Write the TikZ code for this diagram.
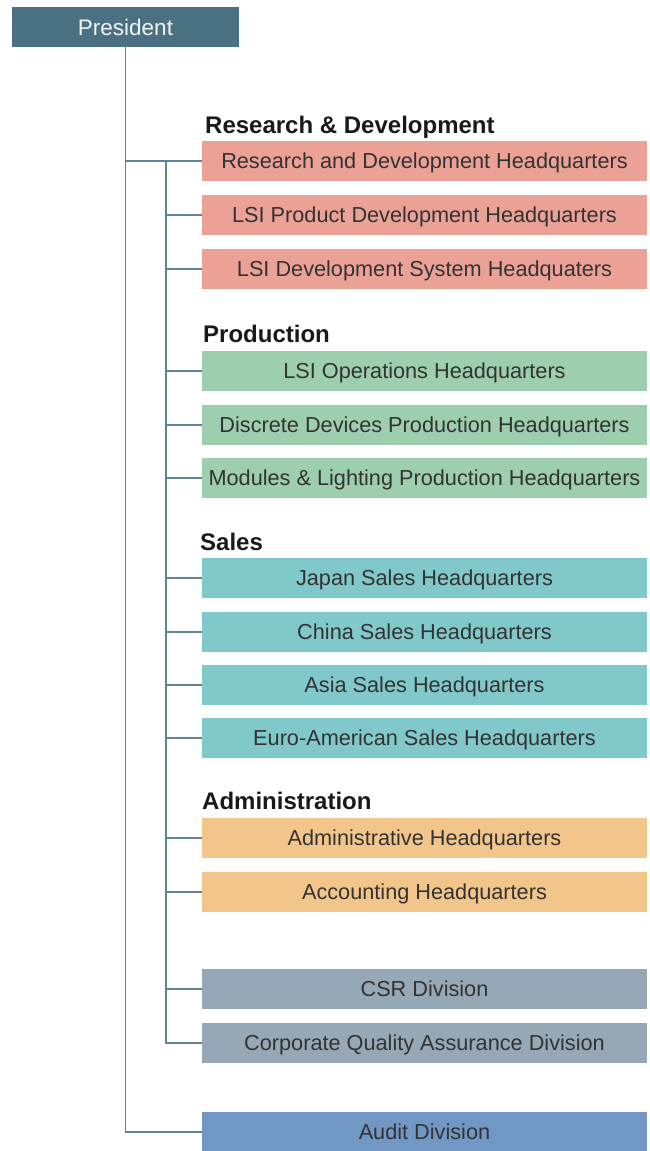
\documentclass[tikz,border=0pt]{standalone}
\usepackage{fontspec}
\setmainfont{Liberation Sans}
\usetikzlibrary{positioning}

\definecolor{presblue}{HTML}{4A7082}
\definecolor{linecol}{HTML}{5E8496}
\definecolor{rdred}{HTML}{EBA196}
\definecolor{prodgreen}{HTML}{9DCEAE}
\definecolor{salesteal}{HTML}{80C8C9}
\definecolor{adminorange}{HTML}{F2C68A}
\definecolor{divgrey}{HTML}{96A8B5}
\definecolor{auditblue}{HTML}{7197C5}
\definecolor{txtgrey}{HTML}{333333}

\tikzset{
  hqbox/.style={minimum width=445pt, minimum height=40pt, inner sep=0pt,
    text height=15.5pt, text depth=0pt,
    text=txtgrey, font=\fontsize{21.7}{24}\selectfont},
  grouphead/.style={anchor=base west, inner sep=0pt, text=black!90,
    font=\fontsize{24}{26}\selectfont\bfseries},
  conn/.style={draw=linecol, line width=1.4pt}
}

\begin{document}
\begin{tikzpicture}[x=1pt,y=-1pt]
        \useasboundingbox (0,0) rectangle (650,1151);
        % top
        \node[fill=presblue, minimum width=227pt, minimum height=40pt, inner sep=0pt,
          text height=16pt, text depth=0pt,
          text=white!92!presblue, font=\fontsize{22.5}{24}\selectfont] (pres) at (125.5,27) {President};
        % group headings
        \node[grouphead] (hrd) at (205,133) {Research \& Development};
        \node[grouphead] (hprod) at (203,342) {Production};
        \node[grouphead] (hsales) at (200,550) {Sales};
        \node[grouphead] (hadmin) at (202,809) {Administration};
        % boxes
        \node[hqbox, fill=rdred] (rd) at (424.5,161) {Research and Development Headquarters};
        \node[hqbox, fill=rdred] (lpd) at (424.5,215) {LSI Product Development Headquarters};
        \node[hqbox, fill=rdred] (lds) at (424.5,269) {LSI Development System Headquaters};
        \node[hqbox, fill=prodgreen] (lop) at (424.5,371) {LSI Operations Headquarters};
        \node[hqbox, fill=prodgreen] (ddp) at (424.5,425) {Discrete Devices Production Headquarters};
        \node[hqbox, fill=prodgreen] (mlp) at (424.5,478) {Modules \& Lighting Production Headquarters};
        \node[hqbox, fill=salesteal] (jps) at (424.5,578) {Japan Sales Headquarters};
        \node[hqbox, fill=salesteal] (chs) at (424.5,632) {China Sales Headquarters};
        \node[hqbox, fill=salesteal] (ass) at (424.5,685) {Asia Sales Headquarters};
        \node[hqbox, fill=salesteal] (eas) at (424.5,738) {Euro-American Sales Headquarters};
        \node[hqbox, fill=adminorange] (adm) at (424.5,838) {Administrative Headquarters};
        \node[hqbox, fill=adminorange] (acc) at (424.5,892) {Accounting Headquarters};
        \node[hqbox, fill=divgrey] (csr) at (424.5,989) {CSR Division};
        \node[hqbox, fill=divgrey] (cqa) at (424.5,1043) {Corporate Quality Assurance Division};
        \node[hqbox, fill=auditblue] (aud) at (424.5,1132) {Audit Division};
        % lines
        \coordinate (sub) at (166,161);
        \draw[conn] (pres.south) |- (aud.west);
        \draw[conn] (pres.south) |- (rd.west);
        \foreach \n in {lpd,lds,lop,ddp,mlp,jps,chs,ass,eas,adm,acc,csr,cqa}
          \draw[conn] (sub) |- (\n.west);
      \end{tikzpicture}
\end{document}
